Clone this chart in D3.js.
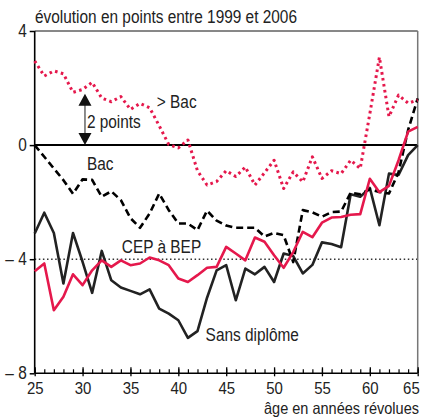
<!DOCTYPE html>
<html>
<head>
<meta charset="utf-8">
<script src="https://cdn.jsdelivr.net/npm/d3@7"></script>
<style>
	body { margin: 0; background: #fff; }
	text { font-family: "Liberation Sans", Arial, sans-serif; fill: #222; }
</style>
</head>
<body>
<div id="chart"></div>
<script>
/* global d3 */

let AGES = d3.range(25, 66);
let GT_BAC = [2.95, 2.42, 2.6, 2.5, 1.85, 1.95, 2.2, 1.65, 1.52, 1.7,
	1.25, 1.46, 1.31, 0.68, 0.02, -0.1, 0.18, -0.9, -1.4, -1.28,
	-0.9, -1.1, -0.77, -1.4, -0.97, -0.53, -1.52, -0.94, -1.29, -0.41,
	-1.17, -0.9, -1.0, -0.53, -0.82, 1.1, 3.08, 1.0, 1.75, 1.47, 1.58];
let BAC = [0, -0.41, -0.82, -1.23, -1.71, -1.2, -1.22, -1.81, -1.62, -1.93,
	-2.56, -2.9, -2.4, -1.7, -2.28, -2.75, -2.75, -2.98, -2.3, -2.65,
	-2.82, -2.9, -2.9, -2.9, -3.2, -3.08, -3.16, -4.1, -2.28, -2.36,
	-2.51, -2.35, -2.33, -1.67, -1.72, -1.55, -1.64, -1.7, -0.95, 0.53, 1.64];
let CEP_BEP = [-4.42, -4.15, -5.79, -5.32, -4.53, -4.91, -4.39, -4.04, -4.27, -4.04,
	-4.21, -4.15, -3.94, -4.04, -4.21, -4.68, -4.8, -4.56, -4.3, -4.27,
	-3.57, -3.8, -4.04, -3.24, -3.39, -3.86, -4.3, -3.75, -3.04, -3.23,
	-2.72, -2.54, -2.52, -2.44, -2.42, -1.18, -1.65, -1.43, -0.53, 0.47, 0.64];
let SANS_DIPLOME = [-3.1, -2.37, -3.08, -4.85, -3.08, -4.09, -5.18, -3.71, -4.74, -4.99,
	-5.11, -5.23, -5.06, -5.73, -5.91, -6.14, -6.76, -6.52, -5.35, -4.39,
	-4.21, -5.44, -4.33, -4.53, -4.27, -4.8, -3.8, -3.89, -4.5, -4.2,
	-3.41, -3.47, -3.58, -1.72, -1.81, -1.5, -2.81, -1.0, -1.05, -0.35, 0.0];
let Y_TICKS = [4, 0, -4, -8];
let X_MAJOR = d3.range(25, 66, 5);

let RED = "#e5184c";
let WIDTH = 421;
let HEIGHT = 419;
let NARROW = 0.88; // the original uses a narrow Helvetica

let x = d3.scaleLinear().domain([25, 65]).range([34.7, 417.7]);
let y = d3.scaleLinear().domain([-8, 4]).range([373.3, 31]);

let svg = d3.select("#chart").append("svg").
	attr("width", WIDTH).
	attr("height", HEIGHT).
	attr("viewBox", `0 0 ${WIDTH} ${HEIGHT}`);

function narrow(sel) {
	sel.each(function() {
		let len = this.getComputedTextLength();
		d3.select(this).
			attr("textLength", len * NARROW).
			attr("lengthAdjust", "spacingAndGlyphs");
	});
}

// reference lines
svg.append("line").
	attr("x1", x(25)).attr("x2", x(65)).
	attr("y1", y(-4)).attr("y2", y(-4)).
	attr("stroke", "#333").
	attr("stroke-width", 1.5).
	attr("stroke-dasharray", "1.5,2.6");

svg.append("line").
	attr("x1", x(25)).attr("x2", x(65)).
	attr("y1", y(0)).attr("y2", y(0)).
	attr("stroke", "#000").
	attr("stroke-width", 2);

// frame
svg.append("line").
	attr("x1", x(25)).attr("x2", x(65)).
	attr("y1", y(4)).attr("y2", y(4)).
	attr("stroke", "#111").
	attr("stroke-width", 1);
svg.append("line").
	attr("x1", x(65)).attr("x2", x(65)).
	attr("y1", y(4)).attr("y2", y(-8)).
	attr("stroke", "#777").
	attr("stroke-width", 1.5);

// axes
let yAxis = svg.append("g").
	attr("transform", `translate(${x(25)},0)`).
	call(d3.axisLeft(y).
		tickValues(Y_TICKS).
		tickSize(5).
		tickPadding(3).
		tickFormat(d => d < 0 ? "\u2013 " + Math.abs(d) : d));
yAxis.select(".domain").remove();
yAxis.selectAll("line").attr("stroke", "#000").attr("stroke-width", 1.5);
yAxis.selectAll("text").
	attr("font-size", 17.5).
	attr("font-family", "Liberation Sans, Arial, sans-serif").
	attr("fill", "#222").
	call(narrow);

let xMinor = svg.append("g").
	attr("transform", `translate(0,${y(-8)})`).
	call(d3.axisBottom(x).
		tickValues(AGES).
		tickSize(-4).
		tickFormat(""));
xMinor.select(".domain").remove();
xMinor.selectAll("line").attr("stroke", "#000").attr("stroke-width", 1.2);

let xAxis = svg.append("g").
	attr("transform", `translate(0,${y(-8)})`).
	call(d3.axisBottom(x).
		tickValues(X_MAJOR).
		tickSize(3).
		tickPadding(6).
		tickFormat(d3.format("d")));
xAxis.select(".domain").remove();
xAxis.selectAll(".tick").append("line").
	attr("y2", -6);
xAxis.selectAll("line").attr("stroke", "#000").attr("stroke-width", 1.3);
xAxis.selectAll("text").
	attr("font-size", 17).
	attr("font-family", "Liberation Sans, Arial, sans-serif").
	attr("fill", "#222").
	attr("text-anchor", d => d === 65 ? "end" : "middle").
	attr("x", d => d === 65 ? 1.5 : 0).
	call(narrow);

svg.append("line").
	attr("x1", x(25)).attr("x2", x(25)).
	attr("y1", y(4)).attr("y2", y(-8)).
	attr("stroke", "#000").
	attr("stroke-width", 1.6);
svg.append("line").
	attr("x1", x(25)).attr("x2", x(65)).
	attr("y1", y(-8)).attr("y2", y(-8)).
	attr("stroke", "#000").
	attr("stroke-width", 1.6);

// series
let line = d3.line().
	x((d, i) => x(AGES[i])).
	y(d => y(d));

let series = [
	{ values: SANS_DIPLOME, color: "#222", dash: null, width: 2.6 },
	{ values: BAC, color: "#000", dash: "7,4", width: 2.6 },
	{ values: CEP_BEP, color: RED, dash: null, width: 2.6 },
	{ values: GT_BAC, color: RED, dash: "2.6,3.4", width: 3 }
];

svg.append("g").
	selectAll("path").
	data(series).
	join("path").
	attr("d", d => line(d.values)).
	attr("fill", "none").
	attr("stroke", d => d.color).
	attr("stroke-width", d => d.width).
	attr("stroke-dasharray", d => d.dash).
	attr("stroke-linejoin", "round");

// "2 points" arrow
let arrowX = x(30.25);
let arrowTop = y(1.8);
let arrowBottom = y(0);
svg.append("line").
	attr("x1", arrowX).attr("x2", arrowX).
	attr("y1", arrowTop + 6).attr("y2", arrowBottom - 6).
	attr("stroke", "#666").
	attr("stroke-width", 1.5);
svg.append("path").
	attr("d", `M${arrowX},${arrowTop} l6.5,12 h-13 Z M${arrowX},${arrowBottom} l6.5,-12 h-13 Z`).
	attr("fill", "#111");

// labels
let labels = [
	{ text: "> Bac", age: 37.75, value: 1.3 },
	{ text: "2 points", age: 30.45, value: 0.6 },
	{ text: "Bac", age: 30.45, value: -0.88 },
	{ text: "CEP à BEP", age: 34.1, value: -3.79 },
	{ text: "Sans diplôme", age: 42.85, value: -6.88 }
];

svg.append("g").
	selectAll("text").
	data(labels).
	join("text").
	attr("x", d => x(d.age)).
	attr("y", d => y(d.value)).
	attr("font-size", 17.5).
	text(d => d.text).
	call(narrow);

svg.append("text").
	attr("x", 35).
	attr("y", 23).
	attr("font-size", 17.5).
	text("évolution en points entre 1999 et 2006").
	call(narrow);

svg.append("text").
	attr("x", 419).
	attr("y", 414).
	attr("text-anchor", "end").
	attr("font-size", 16.5).
	text("âge en années révolues").
	call(narrow);
</script>
</body>
</html>
